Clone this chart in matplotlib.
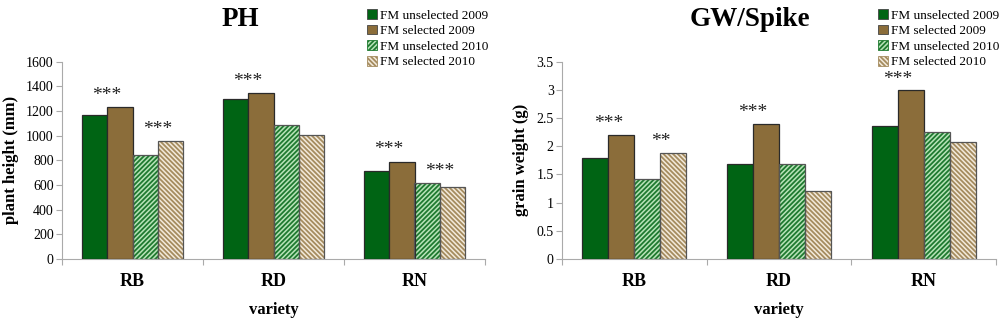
import numpy as np
import matplotlib
matplotlib.use('Agg')
import matplotlib.pyplot as plt
from matplotlib.patches import Patch

plt.rcParams['font.family'] = ['Liberation Serif', 'DejaVu Serif']
plt.rcParams['hatch.linewidth'] = 1.3

# data
varieties = ['RB', 'RD', 'RN']
series = ['FM unselected 2009', 'FM selected 2009', 'FM unselected 2010', 'FM selected 2010']

ph_unsel_2009 = [1170, 1295, 715]
ph_sel_2009 = [1235, 1345, 790]
ph_unsel_2010 = [845, 1090, 615]
ph_sel_2010 = [955, 1005, 585]

gw_unsel_2009 = [1.79, 1.68, 2.36]
gw_sel_2009 = [2.20, 2.39, 2.99]
gw_unsel_2010 = [1.42, 1.68, 2.25]
gw_sel_2010 = [1.88, 1.21, 2.07]

# significance: (variety index, pair index 0=2009 1=2010, label)
ph_sig = [(0, 0, '***'), (0, 1, '***'), (1, 0, '***'), (2, 0, '***'), (2, 1, '***')]
gw_sig = [(0, 0, '***'), (0, 1, '**'), (1, 0, '***'), (2, 0, '***')]

styles = [
    dict(facecolor='#006414', edgecolor='#2a2a2a', hatch=None),
    dict(facecolor='#8b6d3a', edgecolor='#2a2a2a', hatch=None),
    dict(facecolor='#b8e3b8', edgecolor='#1f7a30', hatch='///////'),
    dict(facecolor='#f3eadb', edgecolor='#a58c5f', hatch='\\\\\\\\\\\\\\'),
]


def draw_panel(ax, values, sig, ylim, yticks, yticklabels, ylabel, pad):
    x = np.arange(len(varieties))
    w = 0.18
    offs = (np.arange(4) - 1.5) * w
    for i, vals in enumerate(values):
        st = styles[i]
        if st['hatch']:
            ax.bar(x + offs[i], vals, w, facecolor=st['facecolor'], edgecolor=st['edgecolor'],
                   hatch=st['hatch'], linewidth=0, zorder=2)
            ax.bar(x + offs[i], vals, w, facecolor='none', edgecolor='#555555', linewidth=0.9, zorder=3)
        else:
            ax.bar(x + offs[i], vals, w, facecolor=st['facecolor'], edgecolor=st['edgecolor'],
                   linewidth=0.9, zorder=3)
    for vi, pi, lab in sig:
        top = max(values[2 * pi][vi], values[2 * pi + 1][vi])
        xc = x[vi] + (offs[2 * pi] + offs[2 * pi + 1]) / 2
        ax.text(xc, top + pad, lab, ha='center', va='bottom', fontsize=14, color='#222222')

    ax.set_xlim(-0.5, 2.5)
    ax.set_ylim(*ylim)
    ax.set_yticks(yticks)
    ax.set_yticklabels(yticklabels, fontsize=10)
    ax.set_xticks([-0.5, 0.5, 1.5, 2.5])
    ax.set_xticklabels([])
    ax.tick_params(axis='x', length=4, color='#aaaaaa', width=0.8)
    ax.tick_params(axis='y', length=4, color='#aaaaaa', width=0.8, pad=2)
    ax.set_xticks(x, minor=True)
    ax.set_xticklabels(varieties, minor=True, fontsize=13, fontweight='bold')
    ax.tick_params(axis='x', which='minor', length=0, pad=10)
    for s in ['top', 'right']:
        ax.spines[s].set_visible(False)
    for s in ['left', 'bottom']:
        ax.spines[s].set_color('#aaaaaa')
        ax.spines[s].set_linewidth(0.8)
    ax.set_ylabel(ylabel, fontsize=12, fontweight='bold', labelpad=5)
    ax.set_xlabel('variety', fontsize=12, fontweight='bold', labelpad=9)


fig = plt.figure(figsize=(10, 3.2), dpi=100)
ax1 = fig.add_axes([0.062, 0.191, 0.423, 0.616])
ax2 = fig.add_axes([0.562, 0.191, 0.434, 0.616])

draw_panel(ax1, [ph_unsel_2009, ph_sel_2009, ph_unsel_2010, ph_sel_2010], ph_sig,
           (0, 1600), np.arange(0, 1601, 200), [str(v) for v in range(0, 1601, 200)],
           'plant height (mm)', 25)
draw_panel(ax2, [gw_unsel_2009, gw_sel_2009, gw_unsel_2010, gw_sel_2010], gw_sig,
           (0, 3.5), np.arange(0, 3.51, 0.5), ['0', '0.5', '1', '1.5', '2', '2.5', '3', '3.5'],
           'grain weight (g)', 0.05)

fig.text(0.240, 0.940, 'PH', ha='center', va='center', fontsize=19.5, fontweight='bold')
fig.text(0.750, 0.940, 'GW/Spike', ha='center', va='center', fontsize=19.5, fontweight='bold')

handles = [Patch(facecolor=st['facecolor'], edgecolor='#444444' if not st['hatch'] else st['edgecolor'],
                 hatch=st['hatch'], linewidth=0.6) for st in styles]
for xl in [0.362, 0.873]:
    fig.legend(handles, series, loc='upper left', bbox_to_anchor=(xl, 0.988), frameon=False,
               fontsize=9.5, handlelength=0.75, handleheight=0.75, handletextpad=0.25,
               labelspacing=0.24, borderaxespad=0.2, borderpad=0.2)

fig.savefig('out.png', dpi=100)
